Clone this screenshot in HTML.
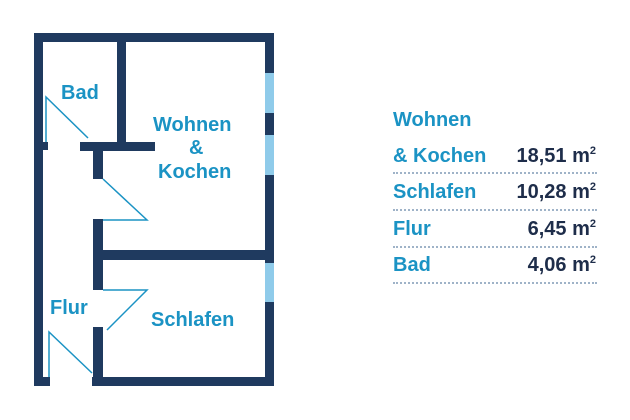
<!DOCTYPE html>
<html><head><style>
body{margin:0;width:630px;height:420px;background:#fff;overflow:hidden;font-family:"Liberation Sans",sans-serif;}
.t{position:absolute;font-weight:bold;color:#1b93c4;font-size:20px;line-height:1;white-space:nowrap;}
.v{position:absolute;font-weight:bold;color:#1e2d4a;font-size:20px;line-height:1;right:34px;white-space:nowrap;}
.v sup{font-size:11px;vertical-align:8px;}
.l{position:absolute;left:393px;width:204px;border-top:2px dotted #9fb3c8;height:0;}
</style></head><body>
<svg width="630" height="420" style="position:absolute;left:0;top:0">
<g fill="#1f3a5f">
<rect x="34" y="33" width="240" height="9"/>
<rect x="265" y="33" width="9" height="353"/>
<rect x="34" y="33" width="9" height="353"/>
<rect x="34" y="377" width="16" height="9"/>
<rect x="92" y="377" width="182" height="9"/>
<rect x="117" y="33" width="9" height="117"/>
<rect x="80" y="142" width="75" height="9"/>
<rect x="93" y="150" width="10" height="29"/>
<rect x="93" y="219" width="10" height="71"/>
<rect x="93" y="327" width="10" height="55"/>
<rect x="103" y="250" width="162" height="10"/>
<rect x="34" y="142" width="14" height="8"/>
</g>
<g fill="#8fcbea">
<rect x="265" y="73" width="9" height="40"/>
<rect x="265" y="135" width="9" height="40"/>
<rect x="265" y="263" width="9" height="39"/>
</g>
<g stroke="#1b93c4" stroke-width="1.5" fill="none">
<polyline points="46,142 46,97 88,138"/>
<polyline points="103,179 147,220 103,220"/>
<polyline points="103,290 147,290 107,330"/>
<polyline points="49,377 49,332 92,373"/>
</g>
</svg>
<div class="t" style="left:61px;top:83px">Bad</div>
<div class="t" style="left:153px;top:115px">Wohnen</div>
<div class="t" style="left:189px;top:138px">&amp;</div>
<div class="t" style="left:158px;top:162px">Kochen</div>
<div class="t" style="left:50px;top:298px">Flur</div>
<div class="t" style="left:151px;top:310px">Schlafen</div>

<div class="t" style="left:393px;top:110px">Wohnen</div>
<div class="t" style="left:393px;top:146px">&amp; Kochen</div><div class="v" style="top:146px">18,51 m<sup>2</sup></div>
<div class="l" style="top:172px"></div>
<div class="t" style="left:393px;top:182px">Schlafen</div><div class="v" style="top:182px">10,28 m<sup>2</sup></div>
<div class="l" style="top:209px"></div>
<div class="t" style="left:393px;top:219px">Flur</div><div class="v" style="top:219px">6,45 m<sup>2</sup></div>
<div class="l" style="top:246px"></div>
<div class="t" style="left:393px;top:255px">Bad</div><div class="v" style="top:255px">4,06 m<sup>2</sup></div>
<div class="l" style="top:282px"></div>
</body></html>
